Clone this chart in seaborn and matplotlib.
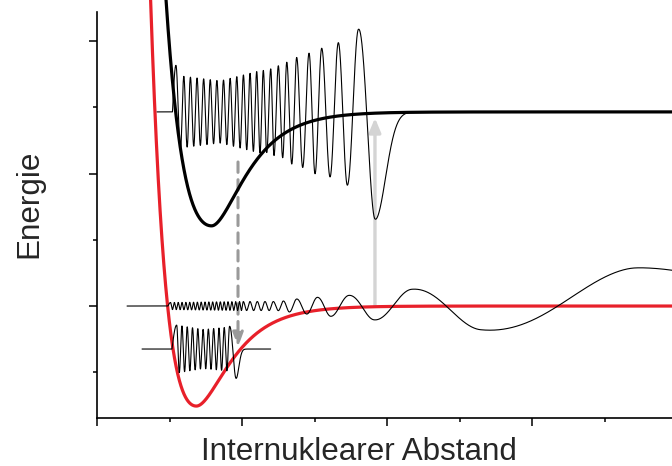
import numpy as np
import seaborn as sns
import matplotlib
matplotlib.use('Agg')
import matplotlib.pyplot as plt

# Potentialkurven (Morse-artig), Werte
pot_names = ['Grundzustand', 'angeregter Zustand']
pot_asymptote = [0.0, 2.93]
pot_depth = [1.51, 1.72]
pot_r_eq = [1.37, 1.58]
pot_a_inner = [1.75, 1.40]
pot_a_outer = [2.30, 2.30]
pot_r_start = [0.60, 0.85]
pot_colors = ['#e8202a', 'black']

# Wellenfunktion im angeregten Zustand: Extrema (Index, Abstand, Amplitude)
wf1_level = 2.93
wf1_index = [-0.5, 0, 1, 13, 26, 27, 28, 29, 30, 31, 32, 33, 34, 35, 36, 37, 38, 39, 40, 41, 42, 43]
wf1_r = [1.041, 1.090, 1.152, 1.699, 2.294, 2.341, 2.396, 2.441, 2.501, 2.561, 2.617,
         2.686, 2.754, 2.837, 2.924, 3.007, 3.099, 3.214, 3.328, 3.452, 3.604, 3.834]
wf1_amp = [0.725, 0.725, 0.543, 0.468, 0.634, 0.599, 0.660, 0.649, 0.709, 0.675, 0.759,
           0.785, 0.826, 0.835, 0.886, 0.936, 0.962, 0.977, 1.046, 1.102, 1.238, 1.630]
wf1_span = (0.828, 4.317)
wf1_tail = 0.207
wf1_smooth = 0.02

# Kontinuums-Wellenfunktion im Grundzustand
wf2_level = 0.0
wf2_index = [-0.5, 0, 38, 40, 42, 44, 46, 48, 49, 50, 51, 52, 53, 54, 55, 56, 57, 58, 58.12]
wf2_r = [0.979, 1.014, 2.018, 2.110, 2.211, 2.317, 2.432, 2.570, 2.652, 2.754, 2.892,
         3.039, 3.223, 3.476, 3.821, 4.341, 5.292, 7.421, 7.931]
wf2_amp = [0.053, 0.053, 0.068, 0.068, 0.068, 0.068, 0.068, 0.065, 0.095, 0.106, 0.125,
           0.125, 0.162, 0.155, 0.211, 0.252, 0.358, 0.578, 0.581]
wf2_span = (0.414, 7.931)
wf2_tail = None
wf2_smooth = 0.08

# gebundene Wellenfunktion im Grundzustand
wf3_level = -0.649
wf3_index = [-0.5, 0, 10, 20, 21]
wf3_r = [1.034, 1.099, 1.463, 1.828, 1.917]
wf3_amp = [0.362, 0.362, 0.294, 0.332, 0.453]
wf3_span = (0.621, 2.396)
wf3_tail = 0.055
wf3_smooth = 0.02

# Übergänge (Abstand, von, nach)
trans_r = [1.945, 3.834]
trans_from = [2.174, 0.0]
trans_to = [-0.619, 2.838]


def morse(r, asym, depth, r_eq, a_in, a_out):
    a = np.where(r < r_eq, a_in, a_out)
    return asym - depth + depth * (1 - np.exp(-a * (r - r_eq))) ** 2


def glatt(a, sigma, dr):
    # Amplitude leicht glätten, damit an den Extrema keine Knicke entstehen
    n = int(4 * sigma / dr)
    k = np.exp(-0.5 * (np.arange(-n, n + 1) * dr / sigma) ** 2)
    k /= k.sum()
    return np.convolve(np.pad(a, n, mode='edge'), k, mode='valid')


def wellenfunktion(r, idx, r_anchor, amp, level, span, tail, smooth):
    m = np.interp(r, r_anchor, idx)
    a = glatt(np.interp(r, r_anchor, amp), smooth, r[1] - r[0])
    psi = a * np.cos(np.pi * m)
    if tail:
        over = r > r_anchor[-1]
        psi[over] *= np.exp(-((r[over] - r_anchor[-1]) / tail) ** 2)
    keep = (r >= span[0]) & (r <= span[1])
    return r[keep], level + psi[keep]


sns.set_theme(style='ticks')
plt.rcParams['font.family'] = ['Liberation Sans', 'DejaVu Sans']

fig = plt.figure(figsize=(6.72, 4.66), dpi=100)
ax = fig.add_axes([97 / 672, 48 / 466, 575 / 672, 418 / 466])

r = np.linspace(0, 7.931, 12000)

for i in range(2):
    rr = r[r >= pot_r_start[i]]
    v = morse(rr, pot_asymptote[i], pot_depth[i], pot_r_eq[i], pot_a_inner[i], pot_a_outer[i])
    sns.lineplot(x=rr, y=v, ax=ax, color=pot_colors[i], lw=2.3, estimator=None, sort=False, zorder=3)

# Pfeile
ax.annotate('', xy=(trans_r[0], trans_to[0]), xytext=(trans_r[0], trans_from[0]),
            arrowprops=dict(arrowstyle='-|>,head_length=0.6,head_width=0.22', color='#9a9a9a',
                            lw=2.2, ls=(0, (3.4, 2.4)), mutation_scale=14, shrinkA=0, shrinkB=0),
            zorder=2)
ax.annotate('', xy=(trans_r[1], trans_to[1]), xytext=(trans_r[1], trans_from[1]),
            arrowprops=dict(arrowstyle='-|>,head_length=0.6,head_width=0.25', color='#d4d4d4',
                            lw=2.4, mutation_scale=14, shrinkA=0, shrinkB=0),
            zorder=2)

waves = [(wf1_index, wf1_r, wf1_amp, wf1_level, wf1_span, wf1_tail, wf1_smooth),
         (wf2_index, wf2_r, wf2_amp, wf2_level, wf2_span, wf2_tail, wf2_smooth),
         (wf3_index, wf3_r, wf3_amp, wf3_level, wf3_span, wf3_tail, wf3_smooth)]
for w in waves:
    x, y = wellenfunktion(r, *w)
    sns.lineplot(x=x, y=y, ax=ax, color='black', lw=0.8, estimator=None, sort=False, zorder=4)

ax.set_xlim(0, 7.931)
ax.set_ylim(-1.69, 4.619)
ax.spines['top'].set_visible(False)
ax.spines['right'].set_visible(False)
ax.spines['left'].set_bounds(-1.69, 4.44)
for s in ['left', 'bottom']:
    ax.spines[s].set_linewidth(1.2)
    ax.spines[s].set_color('black')

ax.set_xticks([0, 2, 4, 6])
ax.set_xticks([1, 3, 5, 7], minor=True)
ax.set_yticks([0, 2, 4])
ax.set_yticks([-1, 1, 3], minor=True)
ax.set_xticklabels([])
ax.set_yticklabels([])
ax.tick_params(which='major', direction='out', length=5.8, width=1.1, color='black')
ax.tick_params(which='minor', direction='out', length=2.9, width=1.1, color='black')

ax.set_xlabel('Internuklearer Abstand', fontsize=22.6)
ax.set_ylabel('Energie', fontsize=22.6)
ax.xaxis.set_label_coords((358.5 - 97) / 575, -0.045)
ax.yaxis.set_label_coords((14 - 97) / 575, (418 - 204) / 418)
ax.yaxis.label.set_va('top')

fig.savefig('out.png', dpi=100)
